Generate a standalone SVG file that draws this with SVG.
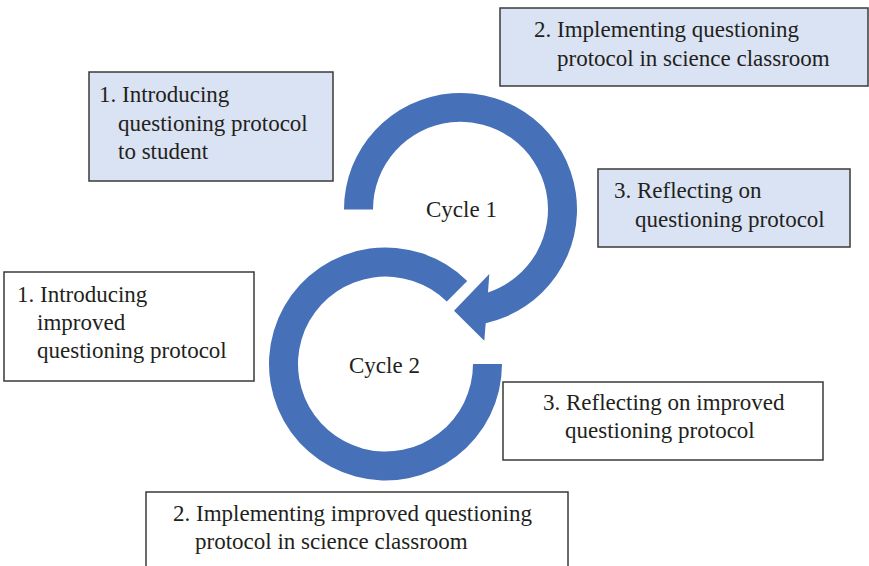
<svg xmlns="http://www.w3.org/2000/svg" width="869" height="566" viewBox="0 0 869 566">
<style>
.box{stroke:#3a3a3a;stroke-width:1.5}
.blue{fill:#dae3f3}
.white{fill:#ffffff}
.t{font-family:"Liberation Serif","Times New Roman",serif;font-size:23px;fill:#231f20}
.arc{fill:#4670b8}
</style>
<rect width="869" height="566" fill="#ffffff"/>
<g id="connectors">
<path id="cycle1-arrow" class="arc" d="M 344,209.5 A 116.5 116.5 0 1 1 485.7,323.2 L 484.3,340.7 L 454,310.7 L 489.3,274 L 488,292.4 A 87.5 87.5 0 1 0 373,209.5 Z"/>
<path id="cycle2-arc" class="arc" d="M 502,364 A 116.5 116.5 0 1 1 467.2,280.9 L 446.8,301.6 A 87.5 87.5 0 1 0 473,364 Z"/>
</g>
<g id="cycle1-label"><text class="t" x="426" y="217">Cycle 1</text></g>
<g id="cycle2-label"><text class="t" x="349" y="373">Cycle 2</text></g>
<g id="node-c1-step1">
<rect class="box blue" x="89" y="72" width="244" height="109"/>
<text class="t" x="99" y="102">1. Introducing</text>
<text class="t" x="118" y="131">questioning protocol</text>
<text class="t" x="118" y="159">to student</text>
</g>
<g id="node-c1-step2">
<rect class="box blue" x="500" y="8" width="368" height="78"/>
<text class="t" x="534" y="37">2. Implementing questioning</text>
<text class="t" x="557" y="66">protocol in science classroom</text>
</g>
<g id="node-c1-step3">
<rect class="box blue" x="598" y="169" width="252" height="78"/>
<text class="t" x="614" y="198">3. Reflecting on</text>
<text class="t" x="635" y="227">questioning protocol</text>
</g>
<g id="node-c2-step1">
<rect class="box white" x="4" y="272" width="250" height="109"/>
<text class="t" x="17" y="302">1. Introducing</text>
<text class="t" x="37" y="330">improved</text>
<text class="t" x="37" y="358">questioning protocol</text>
</g>
<g id="node-c2-step3">
<rect class="box white" x="503" y="382" width="320" height="78"/>
<text class="t" x="543" y="410">3. Reflecting on improved</text>
<text class="t" x="565" y="438">questioning protocol</text>
</g>
<g id="node-c2-step2">
<rect class="box white" x="146" y="492" width="422" height="90"/>
<text class="t" x="173" y="521">2. Implementing improved questioning</text>
<text class="t" x="195" y="549">protocol in science classroom</text>
</g>
</svg>
